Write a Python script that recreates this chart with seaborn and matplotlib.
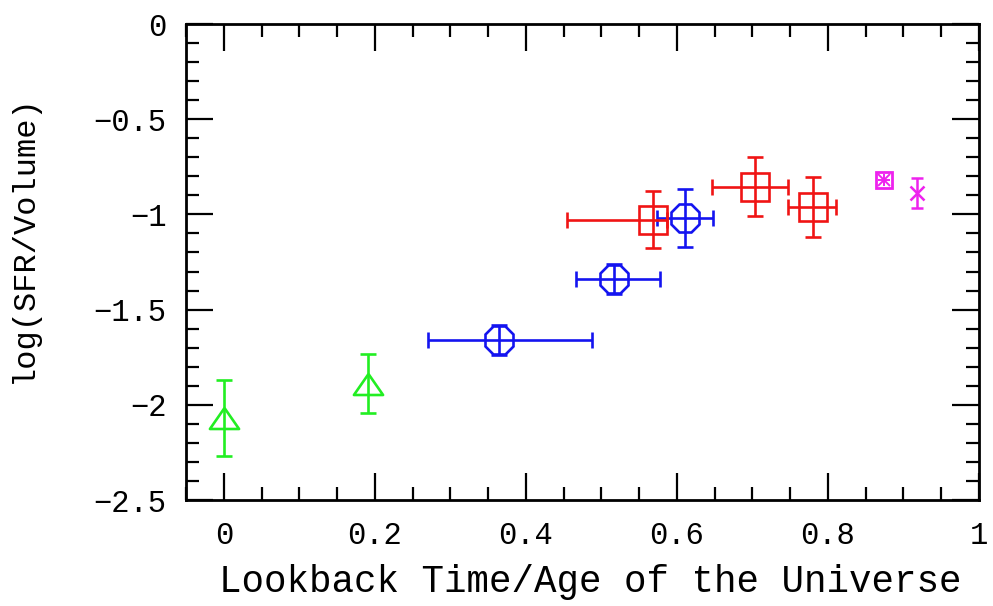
import matplotlib
matplotlib.use("Agg")
import matplotlib.pyplot as plt
import seaborn as sns
import numpy as np
from matplotlib.ticker import MultipleLocator

# ---- data ----
tri_x = [0.0, 0.191]
tri_y = [-2.07, -1.89]
tri_yerr = [0.20, 0.155]

circ_x = [0.364, 0.517, 0.611]
circ_y = [-1.66, -1.339, -1.019]
circ_xerr_lo = [0.093, 0.050, 0.037]
circ_xerr_hi = [0.123, 0.060, 0.037]
circ_yerr = [0.08, 0.08, 0.152]

sq_x = [0.569, 0.704, 0.780]
sq_y = [-1.029, -0.856, -0.961]
sq_xerr_lo = [0.114, 0.057, 0.033]
sq_xerr_hi = [0.018, 0.043, 0.030]
sq_yerr = [0.15, 0.155, 0.157]

mag1_x = [0.874]
mag1_y = [-0.819]
mag2_x = [0.918]
mag2_y = [-0.888]
mag2_yerr = [0.08]

xticks = [0, 0.2, 0.4, 0.6, 0.8, 1]
xticklabels = ["0", "0.2", "0.4", "0.6", "0.8", "1"]
yticks = [0, -0.5, -1, -1.5, -2, -2.5]
yticklabels = ["0", "\u22120.5", "\u22121", "\u22121.5", "\u22122", "\u22122.5"]
xlabel = "Lookback Time/Age of the Universe"
ylabel = "log(SFR/Volume)"

GREEN = "#22ee22"
BLUE = "#1414f0"
RED = "#f01414"
MAGENTA = "#ee22ee"

sns.set_style("ticks")
plt.rcParams["font.family"] = ["Liberation Mono", "DejaVu Sans"]

fig = plt.figure(figsize=(9.93, 6.06), dpi=100)
ax = fig.add_axes([186 / 993, 1 - 500 / 606, (979 - 186) / 993, (500 - 24) / 606])

lw = 1.9
cap = 6
# flattened triangle marker
tri_marker = [(0, 0.72), (-1, -0.72), (1, -0.72), (0, 0.72)]

ax.errorbar(tri_x, tri_y, yerr=tri_yerr, fmt="none", ecolor=GREEN,
            elinewidth=lw, capsize=cap, capthick=lw)
ax.plot(tri_x, tri_y, linestyle="none", marker=tri_marker, markersize=21,
        mfc="none", mec=GREEN, mew=lw)

ax.errorbar(circ_x, circ_y, xerr=[circ_xerr_lo, circ_xerr_hi], yerr=circ_yerr,
            fmt="none", ecolor=BLUE, elinewidth=lw, capsize=cap, capthick=lw)
ax.plot(circ_x, circ_y, linestyle="none", marker="8", markersize=22,
        mfc="none", mec=BLUE, mew=lw)

ax.errorbar(sq_x, sq_y, xerr=[sq_xerr_lo, sq_xerr_hi], yerr=sq_yerr,
            fmt="none", ecolor=RED, elinewidth=lw, capsize=cap, capthick=lw)
ax.plot(sq_x, sq_y, linestyle="none", marker="s", markersize=20,
        mfc="none", mec=RED, mew=lw)

ax.plot(mag1_x, mag1_y, linestyle="none", marker="s", markersize=12,
        mfc="none", mec=MAGENTA, mew=2.0)
ax.plot(mag1_x, mag1_y, linestyle="none", marker="x", markersize=9,
        mec=MAGENTA, mew=1.4)
ax.plot(mag1_x, mag1_y, linestyle="none", marker="+", markersize=9,
        mec=MAGENTA, mew=1.4)

ax.errorbar(mag2_x, mag2_y, yerr=mag2_yerr, fmt="none", ecolor=MAGENTA,
            elinewidth=1.8, capsize=4.5, capthick=1.8)
ax.plot(mag2_x, mag2_y, linestyle="none", marker="x", markersize=10,
        mec=MAGENTA, mew=1.8)

ax.set_xlim(-0.05, 1.0)
ax.set_ylim(-2.5, 0)
ax.set_xticks(xticks)
ax.set_xticklabels(xticklabels)
ax.set_yticks(yticks)
ax.set_yticklabels(yticklabels)
ax.xaxis.set_minor_locator(MultipleLocator(0.05))
ax.yaxis.set_minor_locator(MultipleLocator(0.1))

for s in ax.spines.values():
    s.set_linewidth(2.0)
    s.set_color("black")
    s.set_visible(True)

ax.tick_params(which="both", direction="in", top=True, right=True,
               colors="black", width=1.6)
ax.tick_params(which="major", length=19.5)
ax.tick_params(which="minor", length=9.5)
ax.tick_params(axis="x", which="major", labelsize=22, pad=15)
ax.tick_params(axis="y", which="major", labelsize=22, pad=14)

ax.set_xlabel(xlabel, fontsize=27, color="black")
ax.xaxis.set_label_coords(0.51, -0.135)
ax.set_ylabel(ylabel, fontsize=23, color="black")
ax.yaxis.set_label_coords(-0.185, 0.55)

ax.set_facecolor("white")
fig.patch.set_facecolor("white")
fig.savefig("out.png", dpi=100)
